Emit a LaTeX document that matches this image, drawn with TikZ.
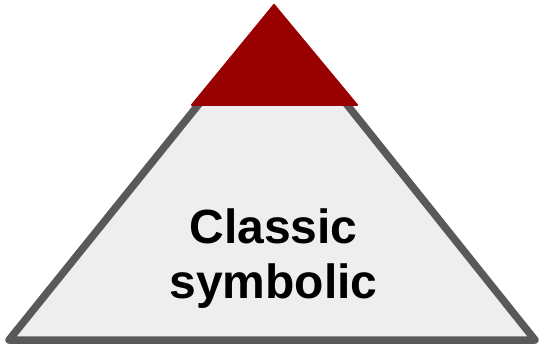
\documentclass[tikz,border=0pt]{standalone}
\usepackage{fontspec}
\setmainfont{Liberation Sans}
\usepackage{tikz}
\usetikzlibrary{positioning,calc}

\definecolor{pyrgray}{HTML}{EEEEEE}
\definecolor{pyrline}{HTML}{595959}
\definecolor{pyrred}{HTML}{990000}

\begin{document}
\begin{tikzpicture}[x=1pt,y=-1pt]
    % Moldura
    \useasboundingbox (0,0) rectangle (543,347);

    % Piramide
    \draw[pyrline, fill=pyrgray, line width=7.5pt, line join=round] (9,340) -- (273,12) -- (535,340) -- cycle;

    % Topo
    \draw[pyrred, fill=pyrred, line width=2pt, line join=round] (192,105) -- (274,5) -- (357,105) -- cycle;

    % Texto
    \node[align=center, font=\bfseries\fontsize{48}{55}\selectfont] (rotulo) at (273.5,259) {Classic\\symbolic};
\end{tikzpicture}
\end{document}
